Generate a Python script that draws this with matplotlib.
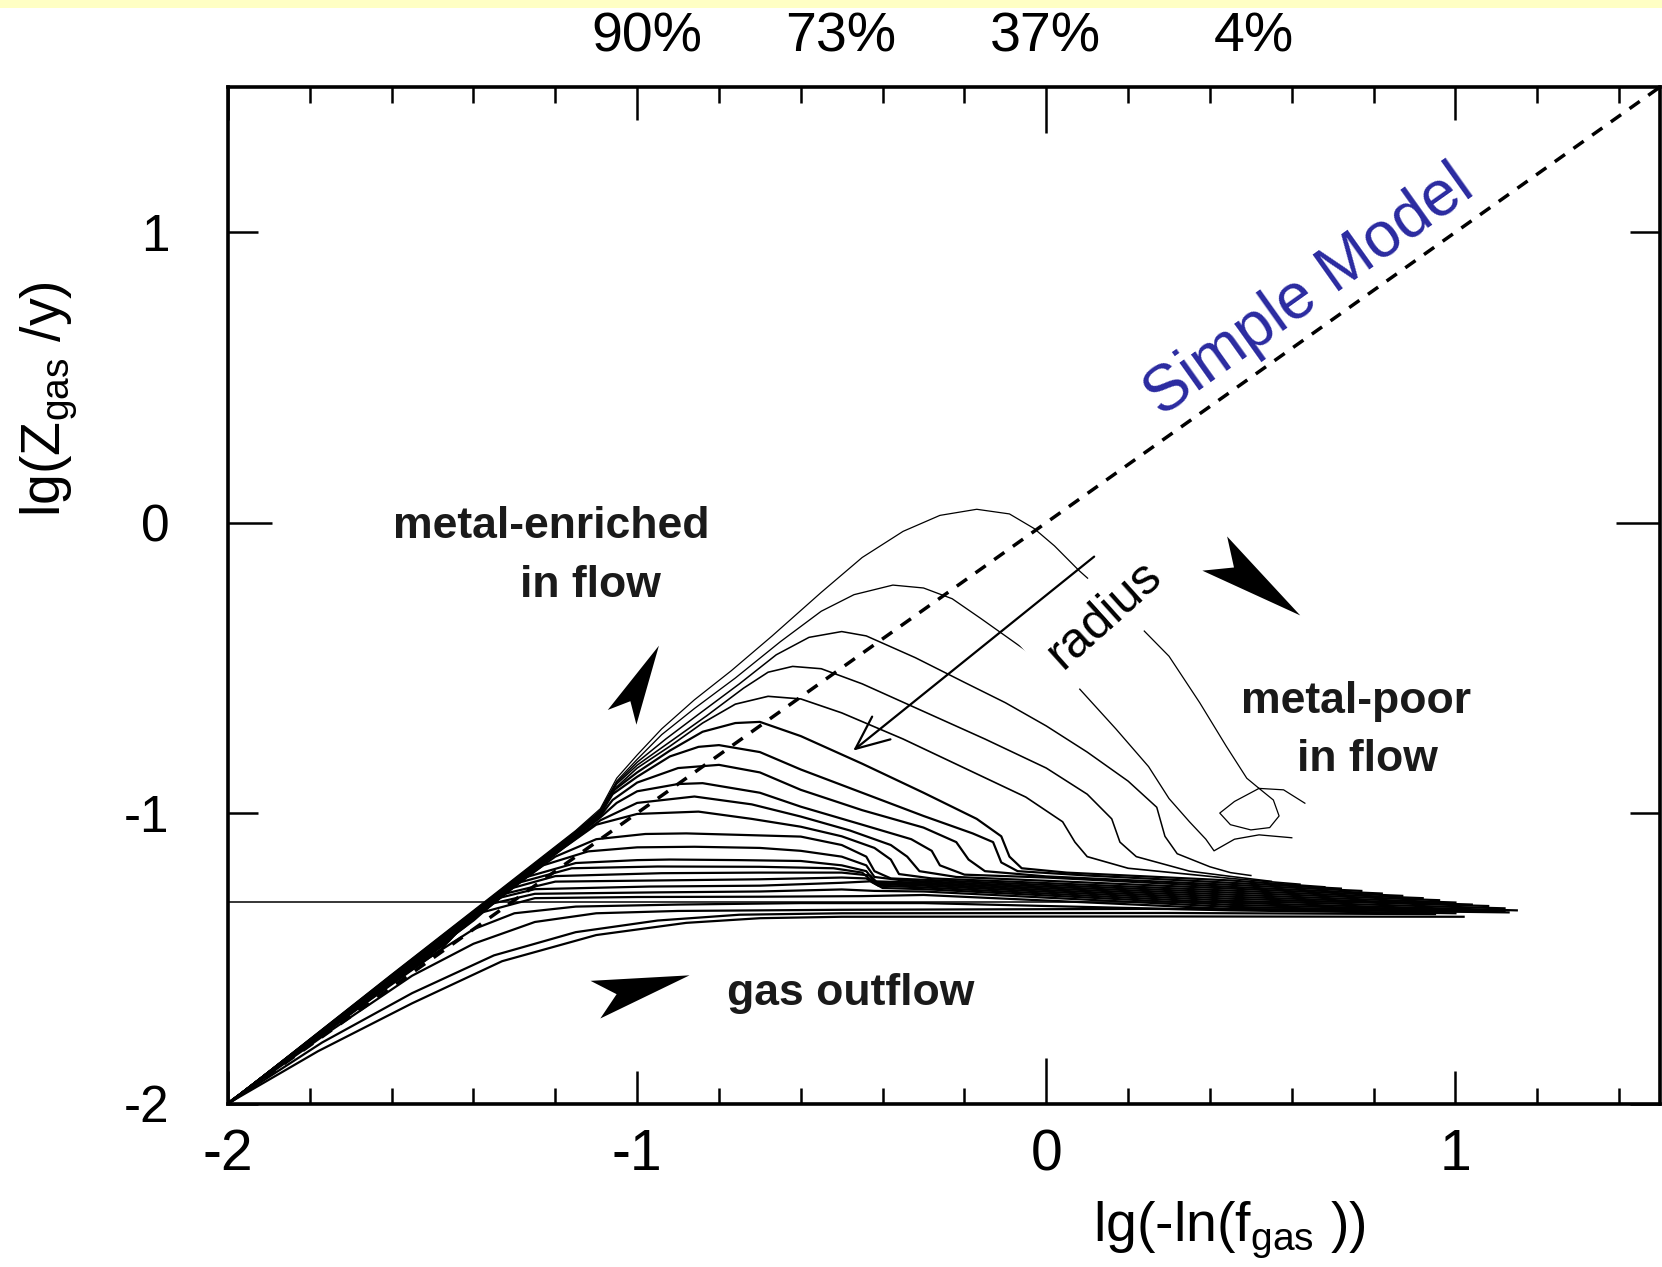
import numpy as np
import matplotlib.pyplot as plt
from matplotlib.markers import MarkerStyle
from matplotlib.path import Path
from matplotlib.patches import Rectangle
from matplotlib.ticker import FixedLocator, MultipleLocator, NullLocator
from matplotlib.transforms import Affine2D

plt.rcParams['font.family'] = ['Liberation Sans', 'DejaVu Sans']
plt.rcParams['mathtext.fontset'] = 'custom'
plt.rcParams['mathtext.rm'] = 'Liberation Sans'

# evolution tracks lg(-ln f_gas) vs lg(Z_gas/y), one per radius (inner first)
tracks = [
    [(-2, -2), (-1.6, -1.555), (-1.3, -1.225), (-1.15, -1.06), (-1.09, -0.985), (-1.05, -0.88),
     (-1.0, -0.80), (-0.94, -0.71), (-0.86, -0.61), (-0.77, -0.51), (-0.67, -0.39), (-0.55, -0.24),
     (-0.45, -0.12), (-0.35, -0.03), (-0.26, 0.025), (-0.17, 0.046), (-0.09, 0.03), (-0.03, -0.02),
     (0.02, -0.08), (0.08, -0.165), (0.16, -0.265), (0.233, -0.364), (0.3, -0.46), (0.375, -0.62),
     (0.44, -0.77), (0.49, -0.88), (0.52, -0.915), (0.555, -0.955), (0.569, -1.01), (0.546, -1.05),
     (0.5, -1.058), (0.45, -1.04), (0.424, -1.0), (0.46, -0.96), (0.52, -0.915), (0.58, -0.92),
     (0.632, -0.966)],
    [(-2, -2), (-1.6, -1.557), (-1.3, -1.228), (-1.15, -1.063), (-1.09, -0.99), (-1.05, -0.89),
     (-1.0, -0.815), (-0.94, -0.73), (-0.86, -0.64), (-0.76, -0.535), (-0.65, -0.41), (-0.55, -0.305),
     (-0.47, -0.248), (-0.375, -0.215), (-0.30, -0.225), (-0.23, -0.262), (-0.16, -0.33), (-0.09, -0.40),
     (-0.05, -0.44), (0.07, -0.555), (0.17, -0.71), (0.25, -0.84), (0.30, -0.95), (0.35, -1.03),
     (0.39, -1.09), (0.41, -1.13), (0.46, -1.09), (0.52, -1.075), (0.6, -1.085)],
    [(-2, -2), (-1.6, -1.559), (-1.3, -1.23), (-1.15, -1.066), (-1.09, -0.993), (-1.05, -0.895),
     (-1.0, -0.825), (-0.93, -0.745), (-0.85, -0.66), (-0.75, -0.555), (-0.66, -0.455), (-0.58, -0.395),
     (-0.5, -0.375), (-0.44, -0.39), (-0.32, -0.465), (-0.2, -0.55), (-0.1, -0.62), (0.0, -0.70),
     (0.1, -0.79), (0.2, -0.89), (0.27, -0.98), (0.29, -1.08), (0.32, -1.14), (0.4, -1.185),
     (0.45, -1.205), (0.5, -1.215)],
    [(-2, -2), (-1.6, -1.561), (-1.3, -1.232), (-1.15, -1.069), (-1.09, -0.996), (-1.05, -0.90),
     (-1.0, -0.835), (-0.92, -0.755), (-0.83, -0.665), (-0.74, -0.57), (-0.68, -0.515), (-0.62, -0.495),
     (-0.55, -0.503), (-0.45, -0.555), (-0.3, -0.65), (-0.15, -0.745), (0.0, -0.845), (0.1, -0.935),
     (0.16, -1.02), (0.18, -1.1), (0.22, -1.15), (0.35, -1.2), (0.45, -1.218), (0.55, -1.235)],
    [(-2, -2), (-1.6, -1.563), (-1.3, -1.234), (-1.15, -1.072), (-1.09, -0.999), (-1.05, -0.91),
     (-1.0, -0.845), (-0.92, -0.77), (-0.84, -0.69), (-0.76, -0.625), (-0.68, -0.598), (-0.6, -0.607),
     (-0.5, -0.655), (-0.35, -0.745), (-0.2, -0.845), (-0.05, -0.945), (0.04, -1.03), (0.07, -1.1),
     (0.1, -1.15), (0.2, -1.19), (0.45, -1.225), (0.62, -1.245)],
    [(-2, -2), (-1.6, -1.565), (-1.3, -1.236), (-1.15, -1.075), (-1.09, -1.002), (-1.06, -0.925),
     (-1.0, -0.86), (-0.92, -0.785), (-0.84, -0.72), (-0.76, -0.69), (-0.7, -0.686), (-0.6, -0.735),
     (-0.45, -0.83), (-0.3, -0.93), (-0.17, -1.02), (-0.11, -1.08), (-0.09, -1.15), (-0.06, -1.19),
     (0.05, -1.205), (0.45, -1.232), (0.68, -1.255)],
    [(-2, -2), (-1.6, -1.566), (-1.3, -1.238), (-1.15, -1.077), (-1.09, -1.005), (-1.06, -0.935),
     (-1.0, -0.875), (-0.92, -0.805), (-0.85, -0.772), (-0.8, -0.766), (-0.7, -0.79), (-0.6, -0.85),
     (-0.45, -0.93), (-0.3, -1.01), (-0.18, -1.07), (-0.13, -1.10), (-0.11, -1.17), (-0.07, -1.2),
     (0.1, -1.215), (0.45, -1.24), (0.72, -1.26)],
    [(-2, -2), (-1.6, -1.567), (-1.3, -1.24), (-1.15, -1.08), (-1.09, -1.01), (-1.06, -0.955),
     (-1.0, -0.895), (-0.9, -0.845), (-0.8, -0.834), (-0.7, -0.86), (-0.6, -0.92), (-0.45, -0.99),
     (-0.3, -1.05), (-0.22, -1.10), (-0.19, -1.16), (-0.15, -1.2), (0.0, -1.218), (0.45, -1.247),
     (0.77, -1.268)],
    [(-2, -2), (-1.6, -1.568), (-1.3, -1.242), (-1.15, -1.083), (-1.09, -1.015), (-1.05, -0.965),
     (-1.0, -0.925), (-0.9, -0.9), (-0.84, -0.897), (-0.7, -0.93), (-0.6, -0.978), (-0.45, -1.04),
     (-0.33, -1.09), (-0.28, -1.13), (-0.26, -1.18), (-0.2, -1.212), (0.0, -1.222), (0.45, -1.254),
     (0.82, -1.277)],
    [(-2, -2), (-1.6, -1.57), (-1.3, -1.245), (-1.15, -1.088), (-1.09, -1.025), (-1.0, -0.965),
     (-0.86, -0.943), (-0.72, -0.97), (-0.6, -1.012), (-0.48, -1.06), (-0.38, -1.11), (-0.34, -1.15),
     (-0.31, -1.2), (-0.22, -1.22), (0.45, -1.26), (0.87, -1.285)],
    [(-2, -2), (-1.6, -1.572), (-1.3, -1.248), (-1.18, -1.12), (-1.1, -1.04), (-1.0, -1.003),
     (-0.85, -0.995), (-0.72, -1.02), (-0.6, -1.047), (-0.5, -1.08), (-0.42, -1.12), (-0.38, -1.16),
     (-0.36, -1.21), (-0.28, -1.225), (0.45, -1.267), (0.92, -1.293)],
    [(-2, -2), (-1.6, -1.574), (-1.3, -1.25), (-1.2, -1.15), (-1.1, -1.09), (-0.98, -1.072),
     (-0.88, -1.07), (-0.75, -1.075), (-0.6, -1.081), (-0.5, -1.11), (-0.44, -1.15), (-0.42, -1.2),
     (-0.38, -1.225), (0.45, -1.274), (0.96, -1.30)],
    [(-2, -2), (-1.6, -1.576), (-1.3, -1.253), (-1.23, -1.18), (-1.12, -1.132), (-1.0, -1.118),
     (-0.86, -1.116), (-0.7, -1.12), (-0.6, -1.13), (-0.5, -1.15), (-0.44, -1.18), (-0.42, -1.22),
     (-0.35, -1.232), (0.45, -1.281), (1.0, -1.308)],
    [(-2, -2), (-1.6, -1.578), (-1.35, -1.31), (-1.27, -1.22), (-1.15, -1.172), (-1.0, -1.162),
     (-0.92, -1.16), (-0.75, -1.162), (-0.6, -1.165), (-0.5, -1.18), (-0.44, -1.2), (-0.42, -1.235),
     (-0.3, -1.24), (0.45, -1.288), (1.04, -1.315)],
    [(-2, -2), (-1.6, -1.579), (-1.37, -1.33), (-1.29, -1.24), (-1.16, -1.19), (-0.95, -1.184),
     (-0.7, -1.185), (-0.52, -1.19), (-0.45, -1.205), (-0.42, -1.24), (-0.3, -1.245), (0.45, -1.295),
     (1.08, -1.32)],
    [(-2, -2), (-1.6, -1.58), (-1.4, -1.37), (-1.31, -1.26), (-1.2, -1.217), (-0.94, -1.207),
     (-0.7, -1.205), (-0.5, -1.205), (-0.43, -1.215), (-0.41, -1.245), (-0.3, -1.25), (0.45, -1.302),
     (1.12, -1.328)],
    [(-2, -2), (-1.6, -1.582), (-1.42, -1.39), (-1.33, -1.28), (-1.2, -1.236), (-0.95, -1.232),
     (-0.7, -1.228), (-0.5, -1.222), (-0.44, -1.225), (-0.41, -1.25), (-0.3, -1.256), (0.45, -1.309),
     (1.15, -1.335)],
    [(-2, -2), (-1.6, -1.585), (-1.45, -1.42), (-1.36, -1.3), (-1.25, -1.262), (-0.97, -1.253),
     (-0.7, -1.25), (-0.5, -1.24), (-0.43, -1.235), (-0.40, -1.258), (-0.3, -1.262), (0.45, -1.316),
     (1.12, -1.337)],
    [(-2, -2), (-1.6, -1.587), (-1.46, -1.44), (-1.38, -1.32), (-1.25, -1.278), (-0.95, -1.273),
     (-0.7, -1.27), (-0.5, -1.263), (-0.42, -1.268), (-0.3, -1.27), (0.45, -1.323), (1.1, -1.34)],
    [(-2, -2), (-1.65, -1.64), (-1.48, -1.47), (-1.4, -1.35), (-1.25, -1.293), (-1.0, -1.289),
     (-0.7, -1.288), (-0.45, -1.286), (-0.3, -1.282), (0.45, -1.33), (1.13, -1.342)],
    [(-2, -2), (-1.7, -1.68), (-1.5, -1.49), (-1.4, -1.40), (-1.3, -1.345), (-1.15, -1.322),
     (-0.9, -1.315), (-0.6, -1.31), (-0.3, -1.31), (0.45, -1.335), (1.0, -1.345)],
    [(-2, -2), (-1.75, -1.75), (-1.55, -1.56), (-1.4, -1.45), (-1.25, -1.375), (-1.1, -1.345),
     (-0.9, -1.337), (-0.5, -1.333), (0.24, -1.33), (0.6, -1.332), (1.0, -1.33)],
    [(-2, -2), (-1.77, -1.79), (-1.55, -1.62), (-1.35, -1.49), (-1.15, -1.41), (-0.95, -1.37),
     (-0.75, -1.35), (-0.5, -1.345), (0.3, -1.344), (0.95, -1.348)],
    [(-2, -2), (-1.78, -1.82), (-1.55, -1.655), (-1.33, -1.51), (-1.10, -1.42), (-0.88, -1.378),
     (-0.7, -1.362), (-0.5, -1.357), (0.3, -1.356), (1.02, -1.357)],
]
# thin inner tracks, heavier outer ones
track_lw = [0.9, 0.95, 1.1, 1.15, 1.2] + [1.6] * (len(tracks) - 5)

# horizontal reference level
level_x = [-2, 0.95]
level_y = [-1.305, -1.305]

# closed-box ("simple") model: Z/y = -ln f
simple_x = [-2, 1.5]
simple_y = [-2, 1.5]

# gas fraction labels on the top axis
f_gas = [0.90, 0.73, 0.37, 0.04]
f_labels = ['90%', '73%', '37%', '4%']

tick_vals = [-2, -1, 0, 1]
tick_labels = ['-2', '-1', '0', '1']

# solid arrowheads marking the inflow / outflow directions
head_x = [-0.9935, 0.5155, -0.9883]
head_y = [-0.544, -0.2117, -1.6004]
head_angle = [62.8, -35.9, 14.5]
head_size = [58, 76, 70]

fig = plt.figure(figsize=(16.62, 12.67), dpi=100)
fig.patches.append(Rectangle((0, 1 - 8 / 1267), 1, 8 / 1267, transform=fig.transFigure,
                             facecolor='#ffffc4', edgecolor='none', zorder=0))
ax = fig.add_axes([228 / 1662, 163.5 / 1267, 1432 / 1662, 1016.5 / 1267])

for tr, lw in zip(tracks, track_lw):
    pts = np.array(tr)
    ax.plot(pts[:, 0], pts[:, 1], color='black', lw=lw, zorder=2)
ax.plot(level_x, level_y, color='black', lw=1.1, zorder=2)
ax.plot(simple_x, simple_y, color='black', lw=2.5, linestyle=(0, (3.6, 3.0)), zorder=3)

stealth = Path([(1, 0), (-1, 0.4), (-0.55, 0), (-1, -0.4), (1, 0)],
               [Path.MOVETO, Path.LINETO, Path.LINETO, Path.LINETO, Path.CLOSEPOLY])
for hx, hy, ang, sz in zip(head_x, head_y, head_angle, head_size):
    m = MarkerStyle(stealth, transform=Affine2D().rotate_deg(ang))
    ax.plot(hx, hy, marker=m, markersize=sz, color='black', mew=0, linestyle='none', zorder=4)

txt = dict(fontsize=32, fontweight='bold', ha='center', va='center', color='#1a1a1a')
ax.text(-1.21, -0.015, 'metal-enriched', **txt)
ax.text(-1.114, -0.215, 'in flow', **txt)
ax.text(0.757, -0.617, 'metal-poor', **txt)
ax.text(0.785, -0.814, 'in flow', **txt)
ax.text(-0.478, -1.62, 'gas outflow', **txt)

ax.text(0.142, -0.318, 'radius', fontsize=36, rotation=42, ha='center', va='center',
        rotation_mode='anchor', zorder=5,
        bbox=dict(boxstyle='square,pad=0.3', facecolor='white', edgecolor='none'))
ax.annotate('', xy=(-0.472, -0.785), xytext=(0.117, -0.117), zorder=6,
            arrowprops=dict(arrowstyle='->,head_length=0.8,head_width=0.35', color='black',
                            lw=1.6, mutation_scale=30, shrinkA=0, shrinkB=0))

ax.text(0.642, 0.796, 'Simple Model', fontsize=46, color='#2a2aa0', rotation=35.4,
        ha='center', va='center', rotation_mode='anchor', zorder=5)

for f, lab in zip(f_gas, f_labels):
    ax.text(np.log10(-np.log(f)), 1.049, lab, transform=ax.get_xaxis_transform(),
            ha='center', va='center', fontsize=40)

ax.set_xlim(-2, 1.5)
ax.set_ylim(-2, 1.5)
ax.xaxis.set_major_locator(FixedLocator(tick_vals))
ax.xaxis.set_minor_locator(MultipleLocator(0.2))
ax.yaxis.set_major_locator(FixedLocator(tick_vals))
ax.yaxis.set_minor_locator(NullLocator())
ax.set_xticklabels(tick_labels, fontsize=41)
ax.set_yticklabels(tick_labels, fontsize=37)
ax.tick_params(which='both', direction='in', top=True, right=True, width=1.8, color='black')
ax.tick_params(axis='x', which='major', length=24, pad=18)
ax.tick_params(axis='x', which='minor', length=11.5)
ax.tick_params(axis='y', which='major', length=21.6, pad=42)
for sp in ax.spines.values():
    sp.set_linewidth(2.6)

# the zero ticks are drawn longer than the others
xt = ax.xaxis.get_major_ticks()
xt[2].tick1line.set_markersize(33)
xt[2].tick2line.set_markersize(33)
yt = ax.yaxis.get_major_ticks()
yt[2].tick1line.set_markersize(31.7)
yt[2].tick2line.set_markersize(31.7)

ax.set_xlabel(r'lg(-ln(f$_{\mathrm{gas}}$ ))', fontsize=40)
ax.xaxis.label.set_va('center')
ax.xaxis.set_label_coords(0.699, -0.1245)
ax.set_ylabel(r'lg(Z$_{\mathrm{gas}}$ /y)', fontsize=40)
ax.yaxis.label.set_va('center')
ax.yaxis.set_label_coords(-0.1255, 0.693)

fig.savefig('out.png', dpi=100)
